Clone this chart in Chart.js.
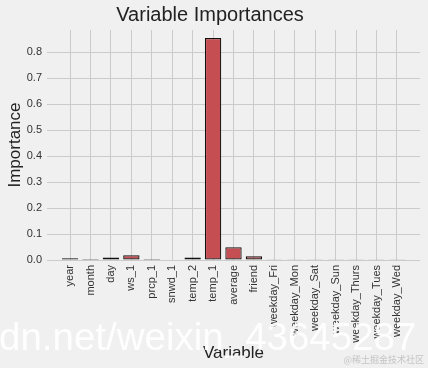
<!DOCTYPE html>
<html>
<head>
<meta charset="utf-8">
<script src="https://cdn.jsdelivr.net/npm/chart.js@4.4.1/dist/chart.umd.min.js"></script>
<style>
  html, body { margin: 0; padding: 0; background: #f0f0f0; }
  #wrap { width: 428px; height: 368px; }
</style>
</head>
<body>
<div id="wrap"><canvas id="chart"></canvas></div>
<script>
// Random forest feature importances
var variables = ['year', 'month', 'day', 'ws_1', 'prcp_1', 'snwd_1', 'temp_2', 'temp_1',
  'average', 'friend', 'weekday_Fri', 'weekday_Mon', 'weekday_Sat', 'weekday_Sun',
  'weekday_Thurs', 'weekday_Tues', 'weekday_Wed'];
var importances = [0.007, 0.004, 0.010, 0.018, 0.004, 0.0, 0.010, 0.855,
  0.049, 0.014, 0.001, 0.001, 0.001, 0.001, 0.001, 0.001, 0.001];
var yTicks = [0, 0.1, 0.2, 0.3, 0.4, 0.5, 0.6, 0.7, 0.8];

var FONT = "'Liberation Sans', Arial, sans-serif";
var TEXT = '#333333';
var GRID = '#cbcbcb';

// blog watermarks that sit on top of the original image
var watermark = {
  id: 'watermark',
  afterDraw: function (chart) {
    var ctx = chart.ctx;
    ctx.save();
    ctx.fillStyle = 'rgba(255,255,255,0.9)';
    ctx.font = '38.5px ' + FONT;
    ctx.textBaseline = 'alphabetic';
    ctx.textAlign = 'left';
    ctx.fillText('dn.net/weixin_43645287', -1, 350);
    ctx.fillStyle = '#c4c4c4';
    ctx.font = "9px 'Noto Sans CJK SC', sans-serif";
    ctx.textAlign = 'right';
    ctx.textBaseline = 'middle';
    ctx.fillText('@稀土掘金技术社区', 424, 360);
    ctx.restore();
  },
};

var points = variables.map(function (_, i) { return { x: i, y: importances[i] }; });

new Chart(document.getElementById('chart').getContext('2d'), {
  type: 'bar',
  data: {
    datasets: [{
      data: points,
      backgroundColor: '#c44e52',
      borderColor: '#111111',
      borderWidth: 1.2,
      borderSkipped: false,
      categoryPercentage: 0.8,
      barPercentage: 1,
    }],
  },
  plugins: [watermark],
  options: {
    responsive: true,
    maintainAspectRatio: false,
    animation: false,
    layout: { padding: { right: 8 } },
    plugins: {
      legend: { display: false },
      tooltip: { enabled: false },
      title: {
        display: true,
        text: 'Variable Importances',
        color: '#222222',
        font: { family: FONT, size: 20, weight: 'normal' },
        padding: { top: 3, bottom: 3 },
      },
    },
    scales: {
      x: {
        type: 'linear',
        offset: false,
        min: -1.13,
        max: 17.13,
        afterBuildTicks: function (s) { s.ticks = variables.map(function (_, i) { return { value: i }; }); },
        afterFit: function (s) { s.height = 108; },
        grid: { offset: false, color: GRID, lineWidth: 1, drawTicks: false },
        border: { display: false },
        ticks: {
          autoSkip: false,
          minRotation: 90,
          maxRotation: 90,
          padding: 5,
          color: TEXT,
          font: { family: FONT, size: 11 },
          callback: function (v) { return variables[v]; },
        },
        title: {
          display: true,
          text: 'Variable',
          color: '#222222',
          font: { family: FONT, size: 17 },
          padding: { top: 4, bottom: 4 },
        },
      },
      y: {
        min: 0,
        max: 0.886,
        afterBuildTicks: function (s) { s.ticks = yTicks.map(function (v) { return { value: v }; }); },
        afterFit: function (s) { s.width = 47; },
        grid: { color: GRID, lineWidth: 1, drawTicks: false },
        border: { display: false },
        ticks: {
          padding: 5,
          color: TEXT,
          font: { family: FONT, size: 11 },
          callback: function (v) { return v.toFixed(1); },
        },
        title: {
          display: true,
          text: 'Importance',
          color: '#222222',
          font: { family: FONT, size: 17 },
          padding: { top: 5, bottom: 4 },
        },
      },
    },
  },
});
</script>
</body>
</html>
